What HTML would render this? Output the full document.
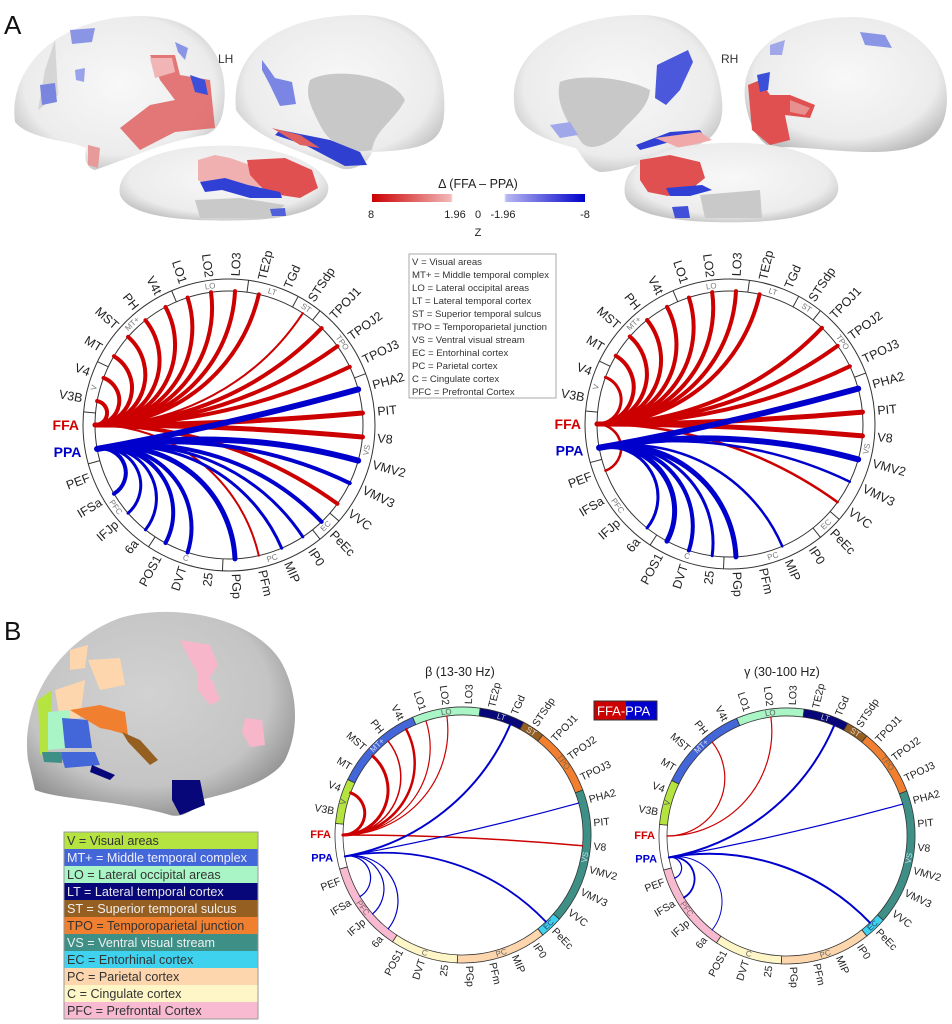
<!DOCTYPE html>
<html><head><meta charset="utf-8"><style>
html,body{margin:0;padding:0;background:#fff;}
svg{display:block;font-family:"Liberation Sans",Arial,sans-serif;}
</style></head><body>
<svg id="s" width="952" height="1024" viewBox="0 0 952 1024" xmlns="http://www.w3.org/2000/svg">
<defs>
<radialGradient id="bg" cx="50%" cy="45%" r="60%"><stop offset="0" stop-color="#f8f8f8"/><stop offset="0.75" stop-color="#ececec"/><stop offset="1" stop-color="#bdbdbd"/></radialGradient>
<radialGradient id="bgB" cx="45%" cy="40%" r="65%"><stop offset="0" stop-color="#d2d2d2"/><stop offset="0.7" stop-color="#c4c4c4"/><stop offset="1" stop-color="#8a8a8a"/></radialGradient>
<linearGradient id="cb" x1="0" x2="1" y1="0" y2="0">
<stop offset="0" stop-color="#cc0000"/><stop offset="0.37" stop-color="#f2b8b8"/><stop offset="0.38" stop-color="#fff"/><stop offset="0.62" stop-color="#fff"/><stop offset="0.63" stop-color="#b8b8f2"/><stop offset="1" stop-color="#0000cc"/></linearGradient>
</defs>
<text x="4" y="34" font-size="26" fill="#111">A</text>
<text x="4" y="640" font-size="26" fill="#111">B</text>

<!-- LH lateral -->
<path d="M15,122 C8,70 55,17 140,16 C200,16 230,55 224,105 C222,125 214,132 205,135 C170,140 130,158 95,170 C86,168 84,158 86,148 C70,140 30,140 15,122 Z" fill="url(#bg)"/>
<path d="M45,70 L55,40 L58,95 L38,110 Z" fill="#bbb" opacity="0.5"/>
<path d="M150,55 L175,55 L180,75 L210,80 L215,128 L175,132 L140,150 L120,128 L150,105 L175,100 L160,80 Z" fill="#e06060" opacity="0.85"/>
<path d="M150,58 L172,58 L175,72 L155,78 Z" fill="#f2b5b5"/>
<path d="M190,75 L205,80 L208,95 L195,92 Z" fill="#3b4fd8"/>
<path d="M175,42 L188,48 L185,60 L178,52 Z" fill="#8a95e6"/>
<path d="M70,30 L95,28 L92,42 L72,44 Z" fill="#8a95e6"/>
<path d="M40,85 L55,83 L57,102 L42,105 Z" fill="#7a85e0"/>
<path d="M75,70 L85,68 L84,82 L76,80 Z" fill="#9aa2ea"/>
<path d="M88,145 L100,148 L98,168 L88,165 Z" fill="#e69a9a"/>
<text x="218" y="63" font-size="12" fill="#333">LH</text>
<!-- LH medial -->
<path d="M236,110 C230,50 280,15 360,15 C420,15 448,60 444,115 C442,145 420,150 372,152 C368,165 350,172 340,168 C300,150 255,140 236,110 Z" fill="url(#bg)"/>
<path d="M310,80 C330,68 390,72 405,100 C395,120 375,130 372,150 C350,155 330,145 320,125 C310,105 305,95 310,80 Z" fill="#c8c8c8"/>
<path d="M262,60 L268,68 L275,78 L292,82 L296,104 L280,106 L270,85 L262,70 Z" fill="#7b86e4"/>
<path d="M280,130 L330,140 L360,152 L367,165 L345,166 L305,145 L275,135 Z" fill="#2f3fd0"/>
<path d="M272,128 L300,135 L320,148 L300,145 Z" fill="#e06060"/>
<!-- LH ventral -->
<path d="M120,195 C115,170 150,148 210,146 C270,143 320,160 328,185 C332,205 300,218 250,220 C200,222 130,220 120,195 Z" fill="url(#bg)"/>
<path d="M195,200 L240,198 L285,205 L270,218 L200,218 Z" fill="#c9c9c9"/>
<path d="M198,160 L215,155 L230,158 L250,165 L262,185 L250,195 L222,185 L210,188 L198,180 Z" fill="#f0b0b0"/>
<path d="M247,160 L285,158 L312,170 L318,188 L300,198 L280,195 L262,188 L250,175 Z" fill="#e05050"/>
<path d="M200,182 L225,178 L248,185 L280,192 L282,198 L250,198 L222,190 L205,192 Z" fill="#3040d5"/>
<path d="M270,209 L285,208 L286,216 L272,216 Z" fill="#5060d8"/>

<!-- RH medial -->
<path d="M515,110 C505,55 560,15 640,15 C690,15 718,50 722,100 C725,130 710,145 680,150 C650,160 620,172 600,172 C585,168 580,150 575,148 C545,140 520,130 515,110 Z" fill="url(#bg)"/>
<path d="M560,82 C575,75 620,75 650,90 C648,110 630,120 618,135 C600,150 585,150 580,140 C565,120 555,100 560,82 Z" fill="#c8c8c8"/>
<path d="M657,65 L688,50 L693,62 L680,90 L666,105 L655,98 Z" fill="#4b58dc"/>
<path d="M550,125 L570,122 L578,135 L560,138 Z" fill="#a0a8ea"/>
<path d="M636,145 L670,132 L700,130 L705,138 L670,142 L640,150 Z" fill="#3040d5"/>
<path d="M655,138 L700,132 L712,140 L680,148 Z" fill="#f0a8a8"/>
<text x="721" y="63" font-size="12" fill="#333">RH</text>
<!-- RH lateral -->
<path d="M745,100 C740,55 780,18 850,17 C910,17 948,55 947,100 C946,140 920,152 870,152 C830,152 800,145 772,148 C755,140 748,120 745,100 Z" fill="url(#bg)"/>
<path d="M770,45 L785,40 L782,55 L770,55 Z" fill="#a0a8ea"/>
<path d="M860,32 L885,35 L892,48 L865,45 Z" fill="#8a95e6"/>
<path d="M748,85 L760,80 L770,95 L790,95 L815,105 L810,118 L785,115 L790,140 L770,145 L752,130 Z" fill="#e05050"/>
<path d="M757,75 L770,72 L768,90 L760,92 Z" fill="#3b4fd8"/>
<path d="M790,100 L810,108 L805,115 L790,112 Z" fill="#e89090"/>
<!-- RH ventral -->
<path d="M625,195 C620,165 655,145 720,143 C790,140 835,160 838,185 C842,205 810,220 750,222 C690,224 630,218 625,195 Z" fill="url(#bg)"/>
<path d="M700,195 L760,190 L762,218 L705,218 Z" fill="#c9c9c9"/>
<path d="M640,160 L670,155 L700,162 L705,178 L690,190 L668,196 L648,192 L640,180 Z" fill="#e05050"/>
<path d="M666,188 L702,185 L712,190 L690,196 L670,196 Z" fill="#3040d5"/>
<path d="M672,207 L688,206 L690,218 L675,218 Z" fill="#4050d8"/>

<!-- colorbar -->
<text x="478" y="188" font-size="12.5" text-anchor="middle" fill="#222">Δ (FFA – PPA)</text>
<rect x="372" y="194" width="213" height="8" fill="url(#cb)"/>
<g font-size="11" fill="#222" text-anchor="middle">
<text x="371" y="218">8</text><text x="455" y="218">1.96</text><text x="478" y="218">0</text><text x="503" y="218">-1.96</text><text x="585" y="218">-8</text><text x="478" y="236">Z</text></g>

<!-- legend A -->
<rect x="409" y="254" width="147" height="144" fill="#fff" stroke="#aaa" stroke-width="1"/>
<g font-size="9.6" fill="#333">
<text x="412" y="265">V = Visual areas</text>
<text x="412" y="278">MT+ = Middle temporal complex</text>
<text x="412" y="291">LO = Lateral occipital areas</text>
<text x="412" y="304">LT = Lateral temporal cortex</text>
<text x="412" y="317">ST = Superior temporal sulcus</text>
<text x="412" y="330">TPO = Temporoparietal junction</text>
<text x="412" y="343">VS = Ventral visual stream</text>
<text x="412" y="356">EC = Entorhinal cortex</text>
<text x="412" y="369">PC = Parietal cortex</text>
<text x="412" y="382">C = Cingulate cortex</text>
<text x="412" y="395">PFC = Prefrontal Cortex</text>
</g>

<!-- B brain -->
<path d="M28,760 C20,700 60,640 120,618 C170,603 250,615 280,660 C298,690 300,730 285,760 C270,785 220,795 200,800 C195,812 180,818 170,815 C120,800 60,800 35,790 Z" fill="url(#bgB)"/>
<path d="M180,640 L210,645 L218,665 L205,685 L190,660 Z" fill="#f7b6ca"/>
<path d="M198,675 L212,680 L220,700 L210,705 L198,690 Z" fill="#f7b6ca"/>
<path d="M245,718 L262,720 L265,745 L250,747 L242,732 Z" fill="#f7b6ca"/>
<path d="M88,660 L120,658 L125,685 L100,690 Z" fill="#fdd6ad"/>
<path d="M70,650 L88,645 L85,668 L70,670 Z" fill="#fdd6ad"/>
<path d="M55,690 L85,680 L80,718 L60,720 Z" fill="#fdd6ad"/>
<path d="M38,700 L52,690 L50,750 L40,755 Z" fill="#b5e33f"/>
<path d="M48,712 L70,710 L68,748 L48,750 Z" fill="#a9f5c6"/>
<path d="M62,718 L88,720 L92,748 L65,748 Z" fill="#4366d8"/>
<path d="M60,752 L95,752 L100,765 L65,768 Z" fill="#4366d8"/>
<path d="M42,752 L62,752 L62,763 L44,762 Z" fill="#3e9087"/>
<path d="M70,710 L100,705 L125,712 L128,735 L110,730 L100,728 Z" fill="#f08030"/>
<path d="M122,732 L140,740 L158,760 L150,765 L128,742 Z" fill="#955f22"/>
<path d="M92,765 L115,775 L110,780 L90,772 Z" fill="#07077a"/>
<path d="M172,780 L200,780 L205,805 L180,815 L172,800 Z" fill="#07077a"/>

<!-- legend B -->
<g font-size="12.6">
<rect x="64" y="832" width="194" height="17" fill="#b5e33f"/><text x="67" y="845" fill="#333">V = Visual areas</text>
<rect x="64" y="849" width="194" height="17" fill="#4366d8"/><text x="67" y="862" fill="#f0f0ff">MT+ = Middle temporal complex</text>
<rect x="64" y="866" width="194" height="17" fill="#a9f5c6"/><text x="67" y="879" fill="#333">LO = Lateral occipital areas</text>
<rect x="64" y="883" width="194" height="17" fill="#07077a"/><text x="67" y="896" fill="#e8e8e8">LT = Lateral temporal cortex</text>
<rect x="64" y="900" width="194" height="17" fill="#955f22"/><text x="67" y="913" fill="#f0f0f0">ST = Superior temporal sulcus</text>
<rect x="64" y="917" width="194" height="17" fill="#f08030"/><text x="67" y="930" fill="#333">TPO = Temporoparietal junction</text>
<rect x="64" y="934" width="194" height="17" fill="#3e9087"/><text x="67" y="947" fill="#f0f0f0">VS = Ventral visual stream</text>
<rect x="64" y="951" width="194" height="17" fill="#3ed2ef"/><text x="67" y="964" fill="#333">EC = Entorhinal cortex</text>
<rect x="64" y="968" width="194" height="17" fill="#fdd6ad"/><text x="67" y="981" fill="#333">PC = Parietal cortex</text>
<rect x="64" y="985" width="194" height="17" fill="#fff6c8"/><text x="67" y="998" fill="#333">C = Cingulate cortex</text>
<rect x="64" y="1002" width="194" height="17" fill="#f8bad0"/><text x="67" y="1015" fill="#333">PFC = Prefrontal Cortex</text>
<rect x="64" y="832" width="194" height="187" fill="none" stroke="#999" stroke-width="1"/>
</g>

<text x="460" y="676" font-size="12.5" text-anchor="middle" fill="#222">β (13-30 Hz)</text>
<text x="782" y="676" font-size="12.5" text-anchor="middle" fill="#222">γ (30-100 Hz)</text>
<rect x="594" y="701" width="32" height="19" fill="#cc0000"/><rect x="626" y="701" width="31" height="19" fill="#0000cc"/>
<rect x="594" y="701" width="63" height="19" fill="none" stroke="#333" stroke-width="1"/>
<text x="597" y="715.5" font-size="13" fill="#fff">FFA-PPA</text>
<g id="charts"></g>
</svg>
<script>
(function(){
var NS="http://www.w3.org/2000/svg";
var NAMES=['FFA','V3B','V4','MT','MST','PH','V4t','LO1','LO2','LO3','TE2p','TGd','STSdp','TPOJ1','TPOJ2','TPOJ3','PHA2','PIT','V8','VMV2','VMV3','VVC','PeEc','IP0','MIP','PFm','PGp','25','DVT','POS1','6a','IFJp','IFSa','PEF','PPA'];
var G=[['V',1,2,'#b5e33f','#556'],['MT+',3,6,'#4366d8','#dde'],['LO',7,9,'#a9f5c6','#555'],['LT',10,11,'#07077a','#ccc'],['ST',12,12,'#955f22','#ddd'],['TPO',13,15,'#f08030','#864'],['VS',16,21,'#3e9087','#cde'],['EC',22,22,'#3ed2ef','#246'],['PC',23,26,'#fdd6ad','#666'],['C',27,29,'#fff6c8','#666'],['PFC',30,33,'#f8bad0','#866'],['',34,35,'#ffffff','#000']];
var N=35,step=360/N;
function ang(i){return 180+i*step;}
function pt(cx,cy,r,d){var t=d*Math.PI/180;return [cx+r*Math.cos(t),cy+r*Math.sin(t)];}
var root=document.getElementById('charts');
function el(tag,attrs,txt){var e=document.createElementNS(NS,tag);for(var k in attrs)e.setAttribute(k,attrs[k]);if(txt!==undefined)e.textContent=txt;root.appendChild(e);return e;}
function f(n){return n.toFixed(2);}
function chart(cx,cy,r,R,colored,fs,red,blue){
  if(colored){
    G.forEach(function(g){
      var a1=ang(g[1])-step/2,a2=ang(g[2])+step/2;
      var o1=pt(cx,cy,R,a1),o2=pt(cx,cy,R,a2),i1=pt(cx,cy,r,a1),i2=pt(cx,cy,r,a2);
      var lg=(a2-a1)>180?1:0;
      el('path',{d:'M'+f(o1[0])+','+f(o1[1])+' A'+R+','+R+' 0 '+lg+' 1 '+f(o2[0])+','+f(o2[1])+' L'+f(i2[0])+','+f(i2[1])+' A'+r+','+r+' 0 '+lg+' 0 '+f(i1[0])+','+f(i1[1])+' Z',fill:g[3],stroke:'#333','stroke-width':0.8});
    });
  } else {
    el('circle',{cx:cx,cy:cy,r:R,fill:'none',stroke:'#333','stroke-width':1});
    el('circle',{cx:cx,cy:cy,r:r,fill:'none',stroke:'#333','stroke-width':1});
    G.forEach(function(g){
      var a1=ang(g[1])-step/2;var p=pt(cx,cy,r,a1),q=pt(cx,cy,R,a1);
      el('line',{x1:f(p[0]),y1:f(p[1]),x2:f(q[0]),y2:f(q[1]),stroke:'#333','stroke-width':1});
    });
  }
  G.forEach(function(g){
    if(!g[0])return;
    var a=(ang(g[1])+ang(g[2]))/2;var m=pt(cx,cy,(r+R)/2,a);
    var an=((a%360)+360)%360;var rot=(an>0&&an<180)?an-90:an+90;
    el('text',{x:f(m[0]),y:f(m[1]),'font-size':8,'fill':colored?g[4]:'#777','text-anchor':'middle','dominant-baseline':'central',transform:'rotate('+f(rot)+' '+f(m[0])+' '+f(m[1])+')'},g[0]);
  });
  NAMES.forEach(function(n,i){
    var a=ang(i);var an=((a%360)+360)%360;
    if(i===0||i===34){
      var p=pt(cx,cy,R+4,a);
      el('text',{x:f(p[0]),y:f(p[1]),'font-size':colored?11:14,'font-weight':'bold',fill:i===0?'#d40000':'#0000cc','text-anchor':'end','dominant-baseline':'central'},n);
      return;
    }
    var p=pt(cx,cy,R+3,a);var right=Math.cos(a*Math.PI/180)>=0;
    var rot=right?an:an-180;
    el('text',{x:f(p[0]),y:f(p[1]),'font-size':fs,fill:'#222','text-anchor':right?'start':'end','dominant-baseline':'central',transform:'rotate('+f(rot)+' '+f(p[0])+' '+f(p[1])+')'},n);
  });
  function edge(src,e,col){
    var a=ang(src)*Math.PI/180,b=ang(e[0])*Math.PI/180;
    var P=[cx+r*Math.cos(a),cy+r*Math.sin(a)],Q=[cx+r*Math.cos(b),cy+r*Math.sin(b)];
    var D=Math.acos(Math.max(-1,Math.min(1,Math.cos(a-b))));
    var d;
    if(D>Math.PI-0.03){d='M'+f(P[0])+','+f(P[1])+' L'+f(Q[0])+','+f(Q[1]);}
    else{
      var rho=r*Math.tan(D/2);var dx=Q[0]-P[0],dy=Q[1]-P[1];var mx=(P[0]+Q[0])/2,my=(P[1]+Q[1])/2;
      var s=((cx-mx)*dy+(cy-my)*(-dx))>0?1:0;
      d='M'+f(P[0])+','+f(P[1])+' A'+f(rho)+','+f(rho)+' 0 0 '+s+' '+f(Q[0])+','+f(Q[1]);
    }
    el('path',{d:d,fill:'none',stroke:col,'stroke-width':e[1],'stroke-linecap':'round'});
  }
  red.forEach(function(e){edge(0,e,'#cc0000');});
  blue.forEach(function(e){edge(34,e,'#0000cc');});
}
chart(229,425,134,146,false,12.5,
 [[1,4],[2,4],[3,4],[4,4],[5,4],[6,4],[7,4],[8,4],[9,4],[10,4],[12,2],[13,4],[14,4],[15,4],[17,5],[18,5],[21,4],[25,2]],
 [[16,6],[19,6],[20,4],[22,4],[23,3],[24,3],[26,5],[28,4],[29,4],[30,3],[31,3],[32,4]]);
chart(730,424,133,145,false,12.5,
 [[2,3],[3,4],[4,4],[5,4],[6,4],[7,4],[8,4],[9,4],[10,4],[13,4],[14,4],[15,4],[17,5],[18,5],[21,2.5],[33,2.5]],
 [[16,6],[19,6],[20,2.5],[24,2.5],[26,5],[27,3],[28,4],[29,5],[30,3]]);
chart(463,835,120,128,true,10.5,
 [[2,3],[4,3],[5,1.5],[6,2.5],[7,1.2],[8,1.2],[18,1.5]],
 [[11,2],[16,1.2],[22,1.8],[32,1.2],[31,1.2],[30,1.2]]);
chart(787,836,120,128,true,10.5,
 [[5,1.2],[8,1.2]],
 [[11,2],[16,1.2],[22,2],[33,1.2],[32,1.8],[30,1]]);
})();
</script>
</body></html>
